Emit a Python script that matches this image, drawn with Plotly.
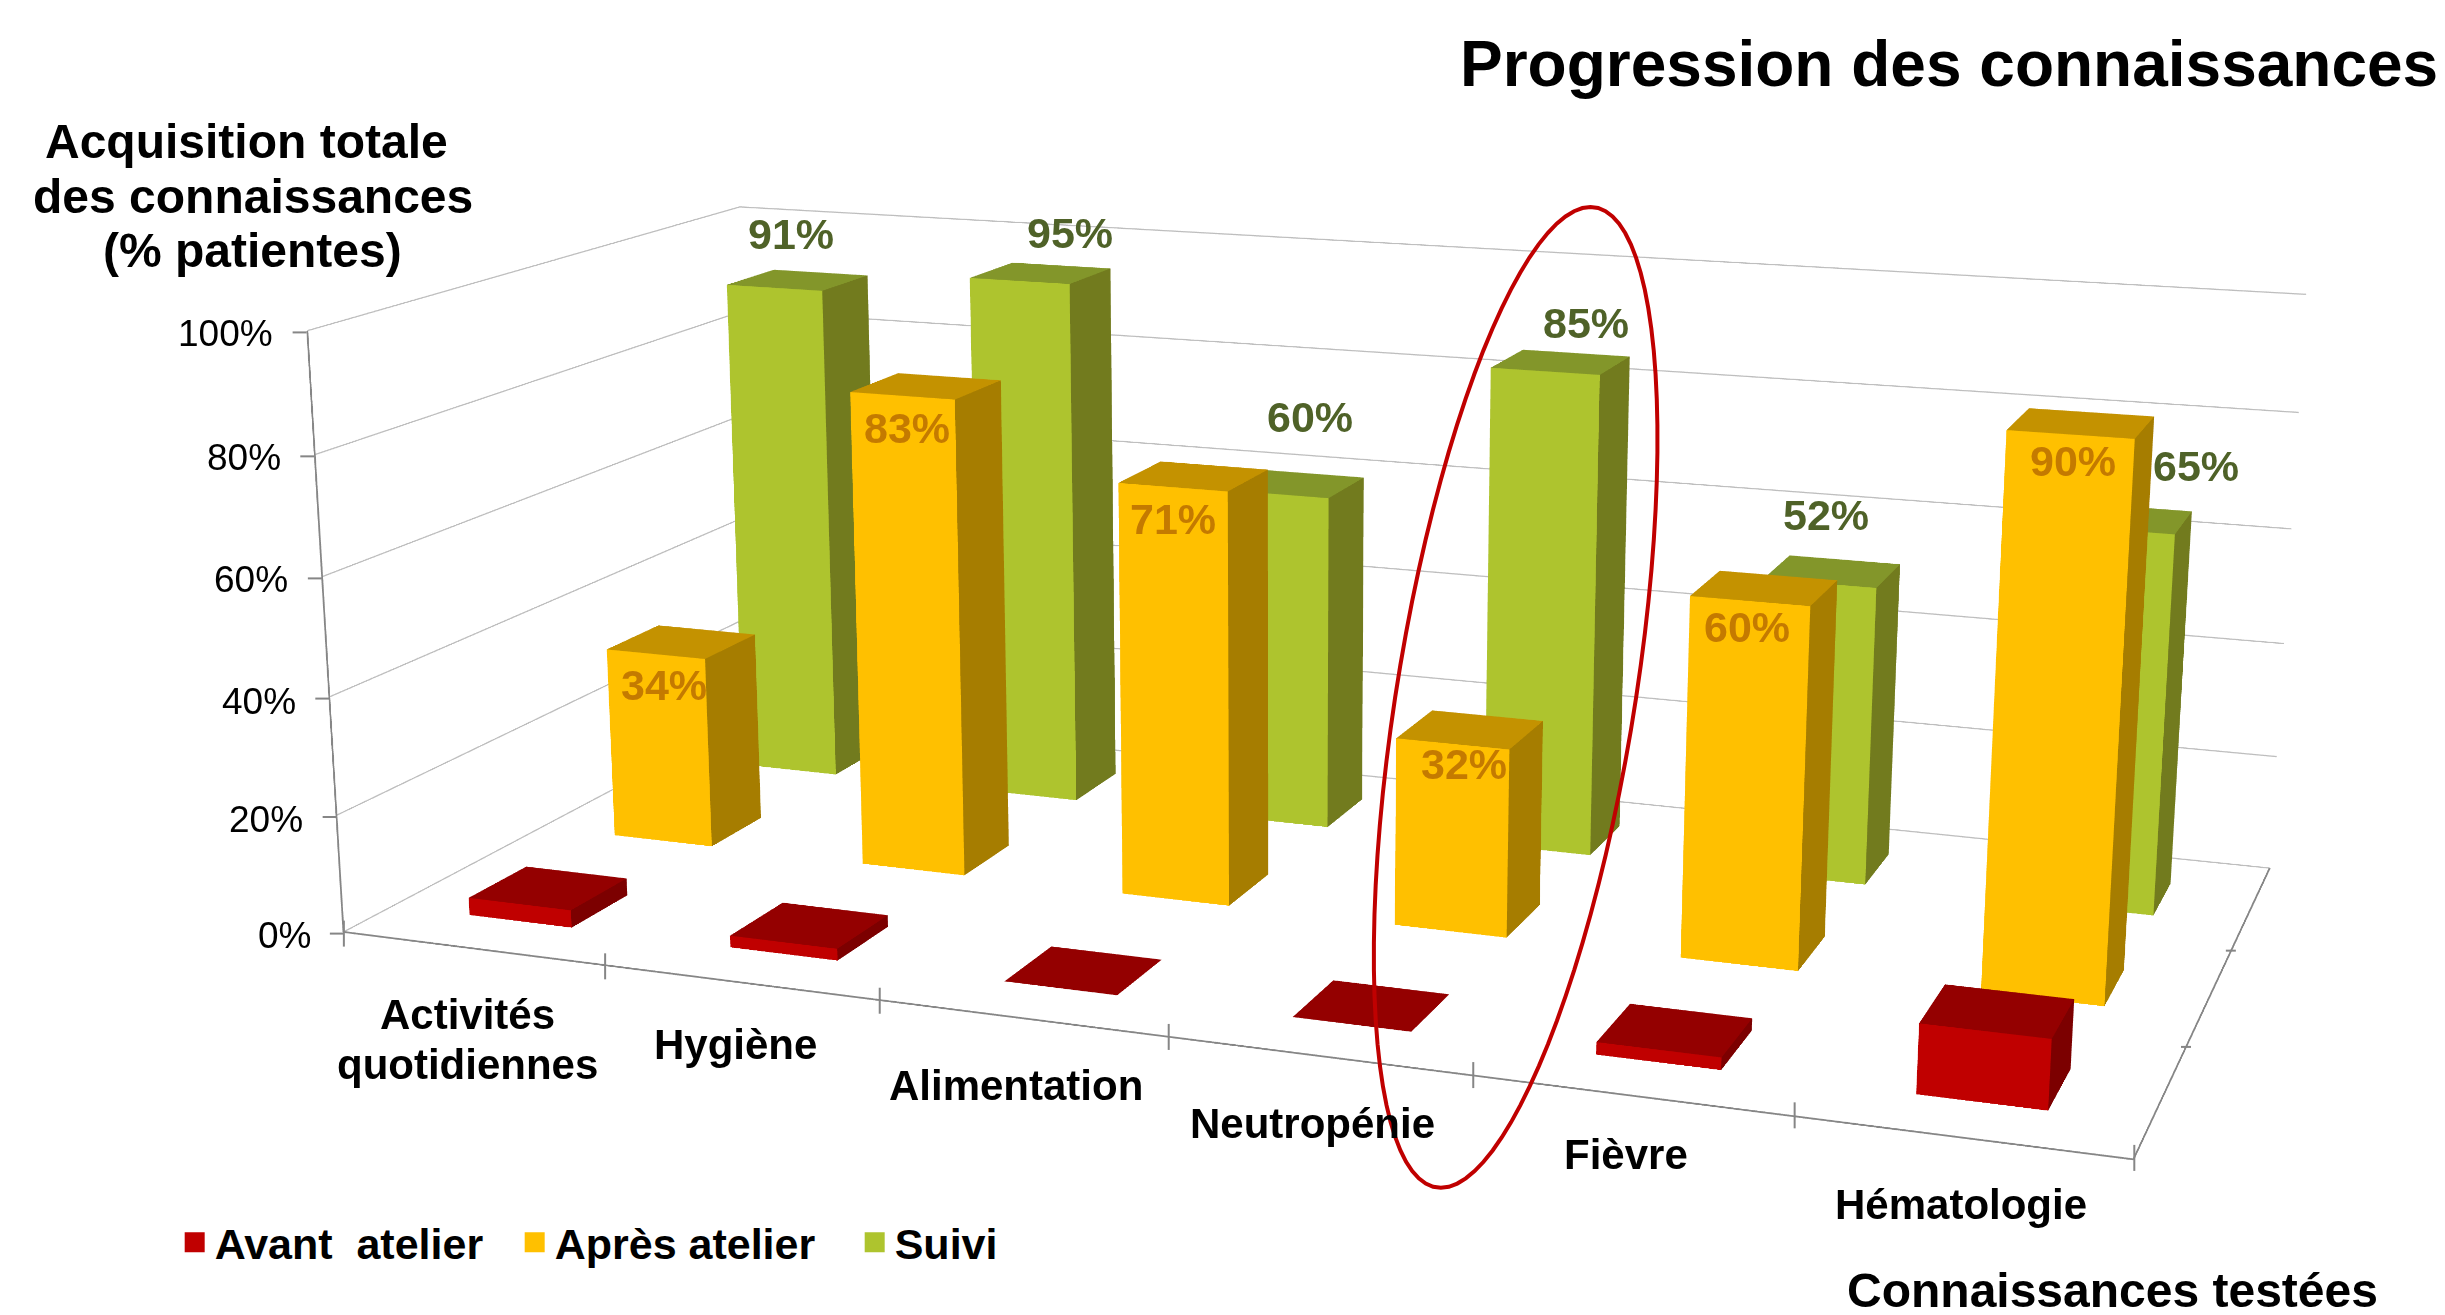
import numpy as np
import plotly.graph_objects as go

W, H = 2445, 1315
categories = ["Activités<br>quotidiennes", "Hygiène", "Alimentation", "Neutropénie", "Fièvre", "Hématologie"]
series_names = ["Avant  atelier", "Après atelier", "Suivi"]
avant = [3, 2, 0, 0, 2, 11]
apres = [34, 83, 71, 32, 60, 90]
suivi = [91, 95, 60, 85, 52, 65]
z_ticks = [0, 20, 40, 60, 80, 100]

# Camera and box proportions
EYE = (2.2291, -6.2360, 1.6206)
CENTER = (0.0512, -0.3897, -0.0076)
UP = (0.0018, 0.0, 1.0)
ASPECT = (2.9222, 1.4645, 1.0)
BAR_W, BAR_D = 0.3971, 0.3820
ZOOM = 2.5947                 # taller canvas = narrower view angle (plotly's is fixed at 45 degrees)
OX, OY = 1277.9512, 674.4113  # where the canvas centre falls in the window

S = 1563 / 1002.4             # shrunk-reference px to window px
F0 = (H / 2) / np.tan(np.pi / 8)
FW = int(2 * np.ceil(max(OX, W - OX)))
FH = int(2 * round(H * ZOOM / 2))
LEFT, TOP = OX - FW / 2, OY - FH / 2
FOCAL = F0 * FH / H


def project(p):
    m = np.array([(p[0] / 6 - .5) * ASPECT[0], (p[1] / 3 - .5) * ASPECT[1], (p[2] / 100 - .5) * ASPECT[2]])
    e, c, up = np.array(EYE), np.array(CENTER), np.array(UP)
    f = c - e
    f /= np.linalg.norm(f)
    s = np.cross(f, up)
    s /= np.linalg.norm(s)
    u = np.cross(s, f)
    d = m - e
    return np.array([OX + FOCAL * (s @ d) / (f @ d), OY - FOCAL * (u @ d) / (f @ d)])


def px(x):
    return (x - LEFT) / FW


def py(y):
    return 1 - (y - TOP) / FH


COLORS = {0: ("#C00000", "#940000", "#7C0000"), 1: ("#FFC000", "#C49200", "#A67D00"), 2: ("#AEC42E", "#83962A", "#727B1E")}
GRID, AXIS = "#BEBEBE", "#868686"
fig = go.Figure()
for v in z_ticks:
    fig.add_trace(go.Scatter3d(x=[0, 0, 6], y=[0, 3, 3], z=[v, v, v], mode="lines", line=dict(color=GRID, width=2.5),
                               showlegend=False, hoverinfo="skip"))
fig.add_trace(go.Scatter3d(x=[0, 0, 6, 6], y=[0, 0, 0, 3], z=[100, 0, 0, 0], mode="lines", line=dict(color=AXIS, width=3.5),
                           showlegend=False, hoverinfo="skip"))
for r_, (vals, name) in enumerate(zip([avant, apres, suivi], series_names)):
    xs, ys, zs, I, J, K, fc = [], [], [], [], [], [], []
    for i_, v in enumerate(vals):
        x0, x1 = i_ + .5 - BAR_W / 2, i_ + .5 + BAR_W / 2
        y0, y1 = r_ + .5 - BAR_D / 2, r_ + .5 + BAR_D / 2
        n = len(xs)
        xs += [x0, x1, x1, x0, x0, x1, x1, x0]
        ys += [y0, y0, y1, y1, y0, y0, y1, y1]
        zs += [0, 0, 0, 0, v, v, v, v]
        for a, b, c, col in [(0, 1, 5, 0), (0, 5, 4, 0), (4, 5, 6, 1), (4, 6, 7, 1), (1, 2, 6, 2), (1, 6, 5, 2)]:
            I.append(n + a)
            J.append(n + b)
            K.append(n + c)
            fc.append(COLORS[r_][col])
    fig.add_trace(go.Mesh3d(x=xs, y=ys, z=zs, i=I, j=J, k=K, facecolor=fc, flatshading=True, hoverinfo="skip", showlegend=False,
                            lighting=dict(ambient=1, diffuse=0, specular=0, roughness=1, fresnel=0)))
    fig.add_trace(go.Scatter3d(x=[None], y=[None], z=[None], mode="markers", name=name, hoverinfo="skip",
                               marker=dict(symbol="square", size=16, color=COLORS[r_][0], line=dict(color=COLORS[r_][0], width=4))))

FONT = "Liberation Sans"
annos = []


def scene_label(xv, yv, zv, text, tx, ty, size, color, anchor="center", weight=700):
    p0 = project((xv, yv, zv))
    annos.append(dict(x=xv, y=yv, z=zv, text=text, showarrow=False, xanchor=anchor, yanchor="middle",
                      xshift=float(tx - p0[0]), yshift=float(p0[1] - ty),
                      font=dict(size=size, color=color, family=FONT, weight=weight)))


yellow_lab = [(426, 440), (581, 275), (752, 333), (939, 490), (1120, 402), (1329, 295)]
green_lab = [(507, 151), (686, 150), (840, 268), (1017, 207), (1171, 330), (1408, 298)]
for i_, (v, t) in enumerate(zip(apres, yellow_lab)):
    scene_label(i_ + .5, 1.5, v, f"{v}%", t[0] * S, t[1] * S, 43, "#C47A00")
for i_, (v, t) in enumerate(zip(suivi, green_lab)):
    scene_label(i_ + .5, 2.5, v, f"{v}%", t[0] * S, t[1] * S, 43, "#4F6228")
tick_right = [201, 196, 191, 186, 181, 176]
tick_y = [601, 527, 451, 373, 295, 215]
for v, tx, ty in zip(z_ticks, tick_right, tick_y):
    scene_label(0, 0, v, f"{v}%", tx * S, ty * S, 37, "black", anchor="right", weight=400)
cat_x = [300, 472, 652, 842, 1043, 1258]
cat_y = [[652, 684], [671], [697], [721], [740], [772]]
for i_, c in enumerate(categories):
    for line, yy in zip(c.split("<br>"), cat_y[i_]):
        scene_label(i_ + .5, 0, 0, line, cat_x[i_] * S, yy * S, 42, "black")

ax_common = dict(showbackground=False, zeroline=False, showspikes=False, showticklabels=False, title=dict(text=""),
                 showgrid=False, showline=False, ticks="")
scene = dict(domain=dict(x=[0, 1], y=[0, 1]), aspectmode="manual",
             aspectratio=dict(x=ASPECT[0], y=ASPECT[1], z=ASPECT[2]),
             camera=dict(eye=dict(x=EYE[0], y=EYE[1], z=EYE[2]), center=dict(x=CENTER[0], y=CENTER[1], z=CENTER[2]),
                         up=dict(x=UP[0], y=UP[1], z=UP[2]), projection=dict(type="perspective")),
             annotations=annos,
             xaxis=dict(range=[0, 6], **ax_common), yaxis=dict(range=[0, 3], **ax_common), zaxis=dict(range=[0, 100], **ax_common))
fig.update_layout(width=FW, height=FH, margin=dict(l=0, r=0, t=0, b=0), paper_bgcolor="white", scene=scene,
                  font=dict(family=FONT, color="black"),
                  legend=dict(orientation="h", x=px(112 * S), y=py(797 * S), xanchor="left", yanchor="middle",
                              entrywidth=295, entrywidthmode="pixels", font=dict(size=43, family=FONT, weight=700)))


def lab(text, x, y, size, anchor="center"):
    fig.add_annotation(text=text, x=px(x * S), y=py(y * S), xref="paper", yref="paper", xanchor=anchor, yanchor="middle",
                       showarrow=False, font=dict(size=size, family=FONT, color="black", weight=700))


lab("Progression des connaissances", 1565, 41, 64, "right")
lab("Acquisition totale", 158, 91, 48)
lab("des connaissances", 162, 126, 48)
lab("(% patientes)", 162, 161, 48)
lab("Connaissances testées", 1355, 828, 48)


def seg(a, b):
    fig.add_shape(type="line", xref="paper", yref="paper", x0=px(a[0]), y0=py(a[1]), x1=px(b[0]), y1=py(b[1]),
                  line=dict(color=AXIS, width=2))


for xi in range(0, 7):
    p0 = project((xi, 0, 0))
    seg((p0[0], p0[1] - 13), (p0[0], p0[1] + 13))
for v in z_ticks:
    p0 = project((0, 0, v))
    seg((p0[0] - 14, p0[1]), (p0[0], p0[1]))
for yi in [1, 2]:
    p0 = project((6, yi, 0))
    seg((p0[0] - 5, p0[1]), (p0[0] + 5, p0[1]))

t = np.linspace(0, 2 * np.pi, 97)[:-1]
ex_ = px(1515.6 + 74.8 * np.sin(t) + 120.5 * np.cos(t))
ey_ = py(697.8 - 490.4 * np.sin(t))
fig.add_shape(type="path", xref="paper", yref="paper",
              path="M" + " L".join(f"{a:.5f},{b:.5f}" for a, b in zip(ex_, ey_)) + " Z",
              line=dict(color="#C00000", width=4))

ps = f"""var gd=document.getElementById('{{plot_id}}');document.documentElement.style.overflow='hidden';document.body.style.overflow='hidden';document.body.style.margin='0';gd.style.position='fixed';gd.style.left='{LEFT}px';gd.style.top='{TOP}px';"""
fig.write_html("out.html", config=dict(displayModeBar=False), post_script=ps)
